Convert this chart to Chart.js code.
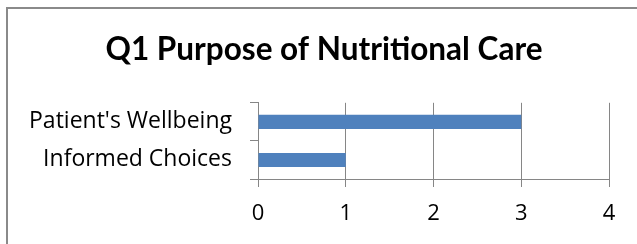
<!DOCTYPE html>
<html>
<head>
<meta charset="utf-8">
<script src="https://cdn.jsdelivr.net/npm/chart.js@4/dist/chart.umd.min.js"></script>
<style>
  html, body { margin: 0; padding: 0; background: #fff; overflow: hidden; }
  #frame { position: absolute; left: 6px; top: 7px; width: 700px; height: 300px; border: 2px solid #8a8a8a; box-sizing: border-box; }
  #wrap { position: absolute; left: 0; top: 0; width: 637px; height: 244px; }
</style>
</head>
<body>
<div id="frame"></div>
<div id="wrap"><canvas id="c" width="637" height="244"></canvas></div>
<script>
const chartTitle = "Q1 Purpose of Nutritional Care";
const categories = ["Patient's Wellbeing", "Informed Choices"];
const responses = [3, 1];
const xTicks = [0, 1, 2, 3, 4];

const gridColor = '#868686';
const TITLE_FONT = 'Lato, "Open Sans", sans-serif';
const FONT = '"Open Sans", Lato, sans-serif';

// shift the title box so it is centred on the outer frame, as in the original
const titleShift = {
  id: 'titleShift',
  afterLayout(chart) {
    if (chart.titleBlock) { chart.titleBlock.left = 39; }
  }
};

new Chart(document.getElementById('c'), {
  type: 'bar',
  data: {
    labels: categories,
    datasets: [{
      data: responses,
      backgroundColor: '#4F81BD',
      borderWidth: 0,
      barPercentage: 0.37,
      categoryPercentage: 1.0
    }]
  },
  plugins: [titleShift],
  options: {
    indexAxis: 'y',
    responsive: false,
    animation: false,
    devicePixelRatio: 1,
    layout: { padding: { left: 0, right: 28, top: 0, bottom: 0 } },
    plugins: {
      legend: { display: false },
      tooltip: { enabled: false },
      title: {
        display: true,
        text: chartTitle,
        color: '#000',
        font: { family: TITLE_FONT, size: 31.5, weight: 'bold', lineHeight: 1.2 },
        padding: { top: 31, bottom: 34 }
      }
    },
    scales: {
      x: {
        min: xTicks[0],
        max: xTicks[xTicks.length - 1],
        afterBuildTicks: (s) => { s.ticks = xTicks.map(v => ({ value: v })); },
        afterFit: (s) => { s.height = 65; },
        grid: { color: gridColor, lineWidth: 1, tickLength: 8, drawTicks: true },
        border: { color: gridColor, width: 1 },
        ticks: { color: '#000', font: { family: FONT, size: 22 }, padding: 14, maxRotation: 0 }
      },
      y: {
        offset: true,
        afterFit: (s) => { s.width = 258; },
        grid: { color: gridColor, drawOnChartArea: false, offset: true, tickLength: 8 },
        border: { color: gridColor, width: 1 },
        ticks: { color: '#000', font: { family: FONT, size: 23 }, padding: 18 }
      }
    }
  }
});
</script>
</body>
</html>
